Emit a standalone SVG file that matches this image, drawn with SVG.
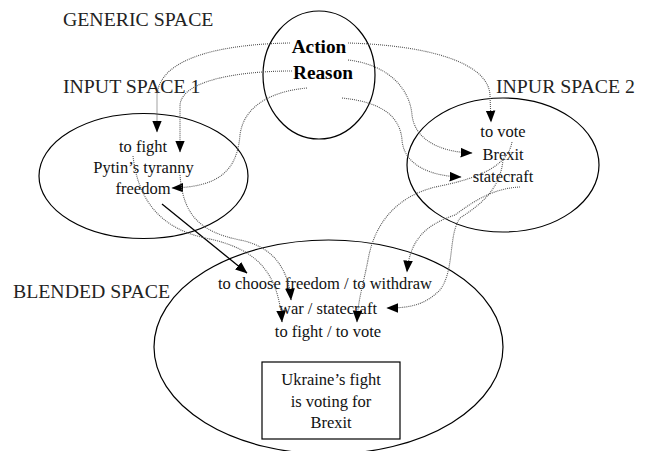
<svg xmlns="http://www.w3.org/2000/svg" width="648" height="451" viewBox="0 0 648 451">
<style>
.sp{fill:none;stroke:#000;stroke-width:1.2}
.lbl{font-family:"Liberation Serif",serif;font-size:19.8px;fill:#222}
.t{font-family:"Liberation Serif",serif;font-size:16.5px;fill:#111;text-anchor:middle}
.b{font-family:"Liberation Serif",serif;font-size:19.3px;font-weight:bold;fill:#000;text-anchor:middle}
.d{fill:none;stroke:#555;stroke-width:1.1;stroke-dasharray:1 1;marker-end:url(#ah)}
.s{fill:none;stroke:#000;stroke-width:1.3;marker-end:url(#ah)}
</style>
<defs>
<marker id="ah" markerUnits="userSpaceOnUse" markerWidth="12" markerHeight="12" viewBox="0 0 10 8" refX="9.5" refY="4" orient="auto">
<path d="M0,0 L10,4 L0,8 z" fill="#000"/>
</marker>
</defs>
<rect width="648" height="451" fill="#fff"/>
<text class="lbl" x="63" y="26">GENERIC SPACE</text>
<text class="lbl" x="63" y="93">INPUT SPACE 1</text>
<text class="lbl" x="496" y="93">INPUR SPACE 2</text>
<text class="lbl" x="13" y="298">BLENDED SPACE</text>
<g id="generic">
<ellipse class="sp" cx="319" cy="75" rx="56" ry="64"/>
<text class="b" x="319" y="53">Action</text>
<text class="b" x="323" y="79">Reason</text>
</g>
<g id="input1">
<ellipse class="sp" cx="143.5" cy="176" rx="104.5" ry="62.5"/>
<text class="t" x="143" y="152">to fight</text>
<text class="t" x="143.5" y="173">Pytin’s tyranny</text>
<text class="t" x="143" y="194">freedom</text>
</g>
<g id="input2">
<ellipse class="sp" cx="503" cy="165" rx="96" ry="67"/>
<text class="t" x="503" y="137">to vote</text>
<text class="t" x="503" y="160">Brexit</text>
<text class="t" x="503" y="182">statecraft</text>
</g>
<g id="blended">
<ellipse class="sp" cx="328.5" cy="347" rx="174.5" ry="107"/>
<text class="t" x="325" y="289">to choose freedom / to withdraw</text>
<text class="t" x="328" y="314">war / statecraft</text>
<text class="t" x="328" y="337">to fight / to vote</text>
</g>
<g id="result">
<rect x="262" y="362" width="138" height="77" fill="none" stroke="#000" stroke-width="1.2"/>
<text class="t" x="331" y="385">Ukraine’s fight</text>
<text class="t" x="331" y="407">is voting for</text>
<text class="t" x="331" y="428">Brexit</text>
</g>
<g id="connectors">
<path class="d" d="M290,43 C230,44 160,55 157,95 L157,132"/>
<path class="d" d="M292,71 C240,71 182,80 180,105 L180,152"/>
<path class="d" d="M307,88 C265,92 243,110 240,135 C237,170 220,187 172,188"/>
<path class="d" d="M348,43 C420,45 488,60 490,95 L491,122"/>
<path class="d" d="M348,60 C390,65 410,90 412,115 C415,140 440,152 472,153"/>
<path class="d" d="M342,98 C380,102 400,115 402,140 C404,165 430,176 461,177"/>
<path class="s" d="M162,204 L247,273"/>
<path class="d" d="M133,156 C138,200 160,228 205,238 C255,248 278,270 282,322"/>
<path class="d" d="M180,175 C183,215 200,232 240,240 C270,246 288,265 291,300"/>
<path class="d" d="M512,142 C508,165 480,178 440,186 C400,194 375,220 368,260 C362,290 358,300 357,322"/>
<path class="d" d="M503,160 C500,190 480,205 460,218 C448,235 455,270 440,290 C425,305 410,308 387,308"/>
<path class="d" d="M520,187 C495,188 475,200 455,215 C425,225 410,240 407,272"/>
</g>
</svg>
